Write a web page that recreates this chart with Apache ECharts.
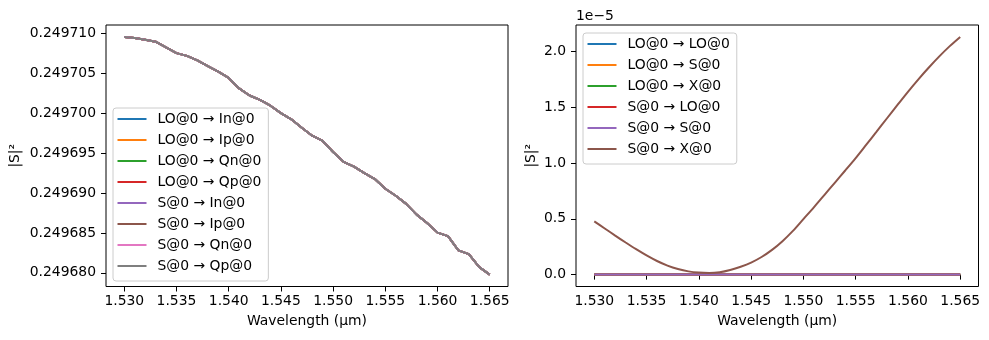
<!DOCTYPE html>
<html><head><meta charset="utf-8">
<script src="https://cdn.jsdelivr.net/npm/echarts@6/dist/echarts.min.js"></script>
<style>html,body{margin:0;padding:0;background:#fff}#c{width:989px;height:340px}</style>
</head><body><div id="c"></div>
<script>
// ---- data ----
const wavelengths = [1.530,1.531,1.532,1.533,1.534,1.535,1.536,1.537,1.538,1.539,
  1.540,1.541,1.542,1.543,1.544,1.545,1.546,1.547,1.548,1.549,
  1.550,1.551,1.552,1.553,1.554,1.555,1.556,1.557,1.558,1.559,
  1.560,1.561,1.562,1.563,1.564,1.565];

const leftValues = [0.2497096,0.24970947,0.24970925,0.24970900,0.24970828,0.24970756,0.24970722,0.24970665,0.24970592,0.24970523,
  0.24970445,0.24970313,0.24970225,0.24970169,0.24970096,0.24970003,0.24969926,0.24969819,0.24969720,0.24969654,
  0.24969515,0.24969392,0.24969333,0.24969250,0.24969176,0.24969054,0.24968967,0.24968865,0.24968730,0.24968624,
  0.24968504,0.24968460,0.24968281,0.24968234,0.24968071,0.24967977];

// right panel values in units of 1e-5
const rightCurve = [0.477,0.414,0.350,0.288,0.228,0.172,0.122,0.081,0.050,0.029,
  0.018,0.015,0.022,0.042,0.071,0.108,0.158,0.222,0.300,0.392,
  0.498,0.604,0.714,0.824,0.934,1.046,1.164,1.283,1.403,1.522,
  1.640,1.752,1.858,1.958,2.050,2.133];
const rightZero = [0,0,0,0,0,0,0,0,0,0,0,0,0,0,0,0,0,0,0,0,0,0,0,0,0,0,0,0,0,0,0,0,0,0,0,0];

const leftNames = ["LO@0 → In@0","LO@0 → Ip@0","LO@0 → Qn@0","LO@0 → Qp@0","S@0 → In@0","S@0 → Ip@0","S@0 → Qn@0","S@0 → Qp@0"];
const rightNames = ["LO@0 → LO@0","LO@0 → S@0","LO@0 → X@0","S@0 → LO@0","S@0 → S@0","S@0 → X@0"];

const xTicks = [1.530,1.535,1.540,1.545,1.550,1.555,1.560,1.565];
const leftYTicks = [0.249680,0.249685,0.249690,0.249695,0.249700,0.249705,0.249710];
const rightYTicks = [0.0,0.5,1.0,1.5,2.0];

const colors = ['#1f77b4','#ff7f0e','#2ca02c','#d62728','#9467bd','#8c564b','#e377c2','#7f7f7f'];

// ---- build ----
const FONT = 'DejaVu Sans';
const FS = 13.9;
function pad(arr){const lo=Math.min(...arr),hi=Math.max(...arr),m=(hi-lo)*0.05;return [lo-m,hi+m];}
const xr = pad(wavelengths), ly = pad(leftValues), ry = pad(rightCurve.concat(rightZero));
const pairs = v => wavelengths.map((w,i)=>[w,v[i]]);

function xAxis(gi){
  return {type:'value', gridIndex:gi, min:xr[0], max:xr[1],
    name:'Wavelength (μm)', nameLocation:'middle', nameGap:28,
    nameTextStyle:{fontFamily:FONT,fontSize:FS,color:'#000'},
    axisLine:{show:false}, splitLine:{show:false},
    axisTick:{show:true,length:5,lineStyle:{color:'#000',width:1},customValues:xTicks},
    axisLabel:{customValues:xTicks,formatter:v=>v.toFixed(3),fontFamily:FONT,fontSize:FS,color:'#000',margin:8}};
}
function yAxis(gi,r,ticks,fmt,gap){
  return {type:'value', gridIndex:gi, min:r[0], max:r[1], scale:true,
    name:'|S|²', nameLocation:'middle', nameGap:gap,
    nameTextStyle:{fontFamily:FONT,fontSize:FS,color:'#000'},
    axisLine:{show:false}, splitLine:{show:false},
    axisTick:{show:true,length:5,lineStyle:{color:'#000',width:1},customValues:ticks},
    axisLabel:{customValues:ticks,formatter:fmt,fontFamily:FONT,fontSize:FS,color:'#000',margin:10}};
}
function legend(names,left,top){
  return {data:names, orient:'vertical', left:left, top:top, itemWidth:29, itemHeight:2, icon:'rect',
    itemGap:5, padding:[3,7,7,4.5], backgroundColor:'rgba(255,255,255,0.8)', borderColor:'#cccccc',
    borderWidth:1, borderRadius:3, selectedMode:false,
    textStyle:{fontFamily:FONT,fontSize:FS,color:'#000',lineHeight:16,padding:[0,0,0,6]}};
}
const series = [];
leftNames.forEach((n,i)=>series.push({name:n,type:'line',xAxisIndex:0,yAxisIndex:0,data:pairs(leftValues),
  showSymbol:false,symbol:'none',color:colors[i],lineStyle:{width:2,color:colors[i]},animation:false}));
const rightData = [rightZero,rightZero,rightZero,rightZero,rightZero,rightCurve];
rightNames.forEach((n,i)=>series.push({name:n,type:'line',xAxisIndex:1,yAxisIndex:1,data:pairs(rightData[i]),
  smooth:i===5?0.3:false,
  showSymbol:false,symbol:'none',color:colors[i],lineStyle:{width:2,color:colors[i]},animation:false}));

const chart = echarts.init(document.getElementById('c'),null,{renderer:'canvas'});
chart.setOption({
  animation:false, backgroundColor:'#fff',
  grid:[{left:106,top:25,width:402,height:261.5,show:true,borderColor:'#000',borderWidth:1,backgroundColor:'transparent'},
        {left:576,top:25,width:402.5,height:261.5,show:true,borderColor:'#000',borderWidth:1,backgroundColor:'transparent'}],
  xAxis:[xAxis(0),xAxis(1)],
  yAxis:[yAxis(0,ly,leftYTicks,v=>v.toFixed(6),84), yAxis(1,ry,rightYTicks,v=>v.toFixed(1),38)],
  legend:[legend(leftNames,113,108),legend(rightNames,583,33)],
  graphic:[{type:'text',left:576,top:9,style:{text:'1e−5',font:FS+'px "'+FONT+'"',fill:'#000'}}],
  series:series
});
</script></body></html>
